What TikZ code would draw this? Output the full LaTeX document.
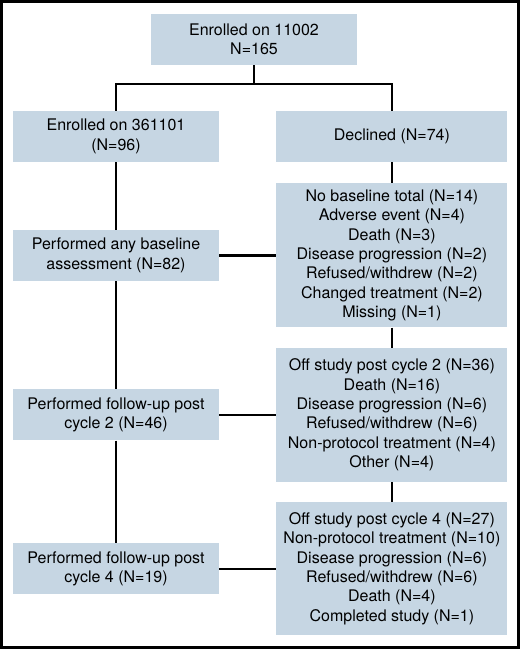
\documentclass[tikz,border=0pt]{standalone}
\usepackage{fontspec}
\setmainfont{TeX Gyre Heros}
\usepackage{tikz}
\usetikzlibrary{positioning}
\definecolor{boxblue}{RGB}{198,214,227}
\tikzset{
	x=1bp, y=1bp, % one unit is one pixel of the page
	node distance=57bp, % gap between the two columns
	every node/.style={font=\fontsize{16bp}{19.3bp}\selectfont}, % text of every box
	box/.style={rectangle, fill=boxblue, inner sep=0pt, align=center, minimum width=206bp, minimum height=51bp}, % left column boxes
	wbox/.style={box, minimum width=231bp}, % right column boxes
	link/.style={line width=2.2bp, black}, % connecting lines
}
\begin{document}
\begin{tikzpicture}
	\useasboundingbox (0,0) rectangle (520,-649);
	\draw[line width=3bp] (1.5,-1.5) rectangle (518.5,-647.5);
			\node[box] (enr11002) at (254,-39.5) {Enrolled on 11002\\N=165};
			\node[box] (enr361101) at (116,-136.5) {Enrolled on 361101\\(N=96)};
			\node[wbox, right=of enr361101] (declined) {Declined (N=74)};
			\node[wbox, below=21bp of declined, minimum height=144bp] (nobase) {No baseline total (N=14)\\Adverse event (N=4)\\Death (N=3)\\Disease progression (N=2)\\Refused/withdrew (N=2)\\Changed treatment (N=2)\\Missing (N=1)};
			\node[box, left=of nobase] (baseline) {Performed any baseline\\assessment (N=82)};
			\node[wbox, below=20bp of nobase, minimum height=134bp] (offtwo) {Off study post cycle 2 (N=36)\\Death (N=16)\\Disease progression (N=6)\\Refused/withdrew (N=6)\\Non-protocol treatment (N=4)\\Other (N=4)};
			\node[box, left=of offtwo] (futwo) {Performed follow-up post\\cycle 2 (N=46)};
			\node[wbox, below=20bp of offtwo, minimum height=133bp] (offfour) {Off study post cycle 4 (N=27)\\Non-protocol treatment (N=10)\\Disease progression (N=6)\\Refused/withdrew (N=6)\\Death (N=4)\\Completed study (N=1)};
			\node[box, left=of offfour] (fufour) {Performed follow-up post\\cycle 4 (N=19)};
			\coordinate[below=19bp of enr11002] (split);
	\draw[link] (enr11002) -- (split);
	\draw[link] (enr361101) |- (split) -| (declined);
	\draw[link] 	(enr361101) -- (baseline)
			(baseline) -- (futwo)
			(futwo) -- (fufour)
			(declined) -- (nobase)
			(nobase) -- (offtwo)
			(offtwo) -- (offfour)
			(baseline) -- (nobase)
			(futwo) -- (offtwo)
			(fufour) -- (offfour);
\end{tikzpicture}
\end{document}
